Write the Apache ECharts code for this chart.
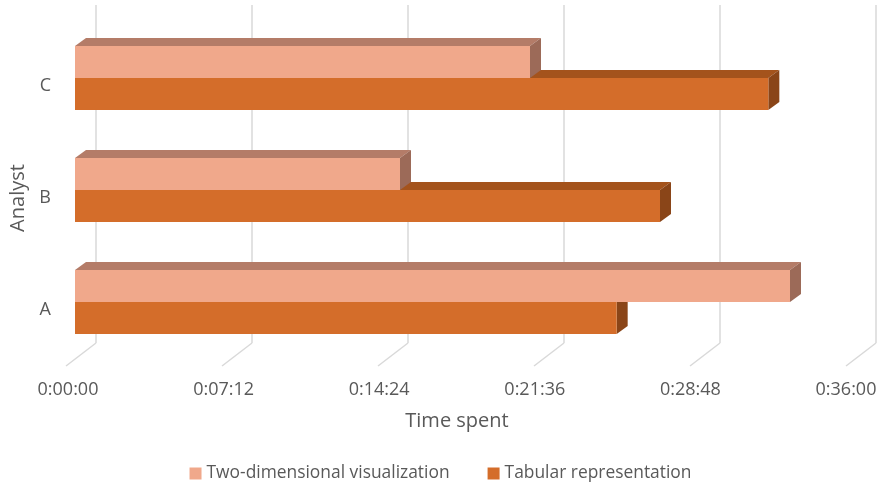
<!DOCTYPE html>
<html>
<head>
<meta charset="utf-8">
<script src="https://cdn.jsdelivr.net/npm/echarts@6/dist/echarts.min.js"></script>
<style>
  html, body { margin: 0; padding: 0; background: #fff; }
  #chart { width: 881px; height: 485px; }
</style>
</head>
<body>
<div id="chart"></div>
<script>
// data (time in seconds)
const analysts = ['A', 'B', 'C'];
const twoDim = [1980, 900, 1260];    // 0:33:00, 0:15:00, 0:21:00
const tabular = [1500, 1620, 1920];  // 0:25:00, 0:27:00, 0:32:00
const timeTicks = [0, 432, 864, 1296, 1728, 2160];

const seriesNames = ['Two-dimensional visualization', 'Tabular representation'];
const faceColors = {
  light: { front: '#F0A88B', top: '#B47C68', side: '#9C6A58' },
  dark: { front: '#D46D2A', top: '#A4531C', side: '#8A4518' }
};

function fmtTime(v) {
  const h = Math.floor(v / 3600);
  const m = Math.floor((v % 3600) / 60);
  const s = Math.round(v % 60);
  return h + ':' + String(m).padStart(2, '0') + ':' + String(s).padStart(2, '0');
}

const DX = 11, DY = -8, BAR_H = 32;

// draws a 3D-looking bar: front face, top face and right side
function bar3d(colors, upper) {
  return function (params, api) {
    const val = api.value(0);
    const cat = api.value(1);
    const p0 = api.coord([0, cat]);
    const p1 = api.coord([val, cat]);
    const yTop = upper ? p0[1] - BAR_H : p0[1];
    const yBot = yTop + BAR_H;
    const x0 = p0[0], x1 = p1[0];
    return {
      type: 'group',
      children: [
        {
          type: 'polygon',
          shape: { points: [[x0, yTop], [x0 + DX, yTop + DY], [x1 + DX, yTop + DY], [x1, yTop]] },
          style: { fill: colors.top }
        },
        {
          type: 'polygon',
          shape: { points: [[x1, yTop], [x1 + DX, yTop + DY], [x1 + DX, yBot + DY], [x1, yBot]] },
          style: { fill: colors.side }
        },
        {
          type: 'rect',
          shape: { x: x0, y: yTop, width: x1 - x0, height: BAR_H },
          style: { fill: colors.front }
        }
      ]
    };
  };
}

const chart = echarts.init(document.getElementById('chart'));
const textColor = '#595959';
const font = 'Open Sans';

chart.setOption({
  animation: false,
  textStyle: { fontFamily: font },
  grid: [
    { left: 75, top: 22, width: 780, height: 336 },  // bars
    { left: 96, top: 5, width: 780, height: 338 },   // back wall gridlines
    { left: 66, top: 30, width: 780, height: 336 }   // labels
  ],
  legend: {
    data: seriesNames,
    top: 460,
    left: 'center',
    icon: 'rect',
    itemWidth: 12,
    itemHeight: 12,
    itemGap: 38,
    textStyle: { color: textColor, fontSize: 17.4, fontFamily: font }
  },
  xAxis: [
    { gridIndex: 0, type: 'value', min: 0, max: 2160, interval: 432, show: false },
    {
      gridIndex: 1, type: 'value', min: 0, max: 2160, interval: 432,
      axisLine: { show: false }, axisTick: { show: false }, axisLabel: { show: false },
      splitLine: { show: true, lineStyle: { color: '#D9D9D9', width: 1.5 } }
    },
    {
      gridIndex: 2, type: 'value', min: 0, max: 2160, interval: 432,
      axisLine: { show: false }, axisTick: { show: false }, splitLine: { show: false },
      axisLabel: { color: textColor, fontSize: 18, margin: 15, formatter: fmtTime },
      name: 'Time spent', nameLocation: 'middle', nameGap: 45,
      nameTextStyle: { color: textColor, fontSize: 20 }
    }
  ],
  yAxis: [
    { gridIndex: 0, type: 'category', data: analysts, show: false },
    { gridIndex: 1, type: 'value', min: 0, max: 1, show: false },
    {
      gridIndex: 2, type: 'category', data: analysts,
      axisLine: { show: false }, axisTick: { show: false }, splitLine: { show: false },
      axisLabel: { color: textColor, fontSize: 18, margin: 17 },
      name: 'Analyst', nameLocation: 'middle', nameGap: 40, nameRotate: 90,
      nameTextStyle: { color: textColor, fontSize: 20 }
    }
  ],
  series: [
    {
      // floor segments of the gridlines
      type: 'custom',
      xAxisIndex: 1, yAxisIndex: 1,
      silent: true,
      data: timeTicks.map(t => [t]),
      renderItem: function (params, api) {
        const p = api.coord([api.value(0), 0]);
        return {
          type: 'line',
          shape: { x1: p[0], y1: p[1], x2: p[0] - 30, y2: p[1] + 23 },
          style: { stroke: '#D9D9D9', lineWidth: 1.5 }
        };
      }
    },
    {
      name: seriesNames[1],
      type: 'custom',
      xAxisIndex: 0, yAxisIndex: 0,
      itemStyle: { color: faceColors.dark.front },
      data: tabular.map((v, i) => [v, i]),
      encode: { x: 0, y: 1 },
      renderItem: bar3d(faceColors.dark, false)
    },
    {
      name: seriesNames[0],
      type: 'custom',
      xAxisIndex: 0, yAxisIndex: 0,
      itemStyle: { color: faceColors.light.front },
      data: twoDim.map((v, i) => [v, i]),
      encode: { x: 0, y: 1 },
      renderItem: bar3d(faceColors.light, true)
    }
  ]
});
</script>
</body>
</html>
